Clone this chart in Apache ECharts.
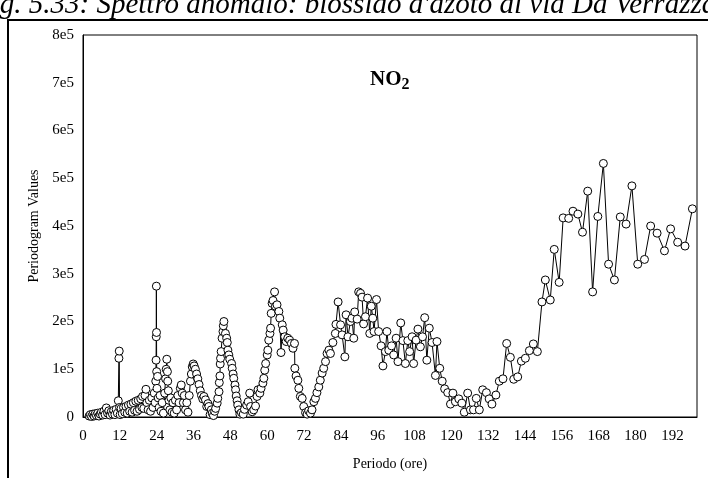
<!DOCTYPE html>
<html>
<head>
<meta charset="utf-8">
<script src="https://cdn.jsdelivr.net/npm/echarts@6/dist/echarts.min.js"></script>
<style>
    html, body { margin: 0; padding: 0; background: #fff; }
    #chart { width: 708px; height: 478px; }
</style>
</head>
<body>
<div id="chart"></div>
<script>
// periodo (ore) e valori del periodogramma (in unita' di 1e5)
var periods = [
    2.0, 2.4, 2.8, 3.2, 3.6, 4.0, 4.4, 4.8, 5.2, 5.6, 6.0, 6.4, 6.8, 7.2, 7.6, 8.0, 8.4, 8.8, 9.2, 9.6,
    10.0, 10.4, 10.8, 11.2, 11.5, 11.7, 11.8, 11.9, 12.1, 12.4, 12.8, 13.2, 13.6, 14.0, 14.4, 14.8, 15.2, 15.6,
    16.0, 16.4, 16.8, 17.2, 17.6, 18.0, 18.4, 18.8, 19.2, 19.4, 19.8, 20.2, 20.5, 20.8, 21.2, 21.6, 22.0, 22.4,
    22.8, 23.2, 23.5, 23.7, 23.8, 23.85, 23.9, 23.95, 24.0, 24.1, 24.3, 24.5, 24.8, 25.1, 25.4, 25.8, 26.2,
    26.6, 26.9, 27.1, 27.3, 27.5, 27.6, 27.8, 28.0, 28.3, 28.6, 29.0, 29.3, 29.7, 30.1, 30.5, 30.9, 31.3,
    31.7, 32.0, 32.3, 32.7, 33.0, 33.4, 33.8, 34.2, 34.6, 35.0, 35.3, 35.6, 35.9, 36.2, 36.6, 37.0, 37.4,
    37.8, 38.2, 38.6, 39.0, 39.4, 39.9, 40.3, 40.7, 41.0, 41.4, 41.8, 42.1, 42.5, 42.9, 43.2, 43.7, 43.9,
    44.3, 44.4, 44.6, 44.7, 44.8, 45.0, 45.3, 45.6, 45.7, 45.9, 46.4, 46.8, 47.0, 47.2, 47.5, 47.8, 48.4,
    48.6, 48.9, 49.1, 49.5, 49.7, 49.9, 50.2, 50.4, 50.8, 51.1, 51.6, 52.2, 52.6, 53.3, 53.8, 54.3, 54.6,
    55.1, 55.6, 56.2, 56.7, 57.0, 57.6, 58.0, 58.6, 58.9, 59.2, 59.5, 60.0, 60.2, 60.5, 60.9, 61.1, 61.3,
    61.6, 61.9, 62.4, 62.7, 63.2, 63.8, 64.1, 64.5, 64.9, 65.2, 65.7, 66.2, 66.7, 67.3, 67.9, 68.4, 68.9,
    69.0, 69.4, 70.0, 70.3, 70.8, 71.4, 71.9, 72.5, 73.0, 73.5, 74.1, 74.6, 75.2, 75.7, 76.2, 76.8, 77.3,
    77.9, 78.4, 79.0, 79.5, 80.1, 80.6, 81.4, 82.2, 82.4, 83.1, 83.9, 84.4, 85.3, 85.7, 86.3, 87.1, 87.6,
    88.2, 88.5, 89.3, 89.8, 90.4, 90.9, 91.4, 92.0, 92.7, 93.4, 93.9, 94.4, 94.8, 95.6, 96.3, 97.1, 97.7,
    98.5, 99.0, 99.6, 100.5, 101.2, 102.0, 102.6, 103.5, 104.2, 105.0, 105.8, 106.4, 107.2, 107.7, 108.5,
    109.1, 109.9, 110.6, 111.3, 112.0, 112.8, 113.7, 114.8, 115.3, 116.2, 117.0, 117.8, 118.8, 119.7,
    120.5, 121.3, 122.4, 123.4, 124.2, 125.3, 126.2, 127.2, 128.1, 129.1, 130.2, 131.4, 132.3, 133.2,
    134.5, 135.6, 136.8, 138.0, 139.2, 140.3, 141.6, 142.8, 144.1, 145.4, 146.7, 148.0, 149.5, 150.6,
    152.2, 153.5, 155.1, 156.4, 158.2, 159.6, 161.2, 162.7, 164.4, 166.0, 167.7, 169.5, 171.2, 173.1,
    175.0, 176.9, 178.8, 180.7, 182.9, 184.9, 187.0, 189.4, 191.4, 193.7, 196.1, 198.5
];
var values = [
    0.02, 0.05, 0.01, 0.06, 0.02, 0.07, 0.03, 0.08, 0.02, 0.06, 0.10, 0.04, 0.12, 0.05, 0.19, 0.08, 0.13, 0.04, 0.11, 0.06,
    0.14, 0.05, 0.16, 0.08, 0.34, 1.23, 1.38, 0.20, 0.05, 0.18, 0.07, 0.20, 0.10, 0.22, 0.08, 0.25, 0.12, 0.27,
    0.10, 0.30, 0.14, 0.33, 0.12, 0.35, 0.16, 0.38, 0.20, 0.43, 0.18, 0.45, 0.58, 0.30, 0.15, 0.35, 0.12, 0.40,
    0.20, 0.50, 0.30, 0.75, 1.19, 1.68, 2.74, 1.77, 0.95, 0.60, 0.85, 0.40, 0.20, 0.45, 0.12, 0.30, 0.08,
    0.50, 0.80, 1.00, 1.21, 0.95, 0.75, 0.55, 0.35, 0.15, 0.40, 0.10, 0.30, 0.08, 0.35, 0.15, 0.45, 0.30,
    0.60, 0.67, 0.50, 0.30, 0.45, 0.15, 0.30, 0.10, 0.45, 0.75, 0.90, 1.05, 1.11, 1.07, 1.00, 0.90, 0.80,
    0.68, 0.55, 0.45, 0.38, 0.43, 0.36, 0.22, 0.28, 0.22, 0.05, 0.15, 0.08, 0.03, 0.12, 0.18, 0.29, 0.39,
    0.53, 0.72, 0.86, 1.11, 1.23, 1.37, 1.65, 1.79, 1.91, 2.00, 1.75, 1.65, 1.56, 1.40, 1.30, 1.21, 1.12,
    1.02, 0.90, 0.81, 0.67, 0.57, 0.44, 0.34, 0.25, 0.15, 0.06, 0.09, 0.06, 0.16, 0.25, 0.32, 0.50, 0.22,
    0.11, 0.15, 0.23, 0.43, 0.57, 0.50, 0.60, 0.71, 0.81, 0.98, 1.12, 1.30, 1.40, 1.61, 1.75, 1.86, 2.17,
    2.38, 2.44, 2.62, 2.32, 2.35, 2.21, 2.07, 1.35, 1.93, 1.82, 1.68, 1.58, 1.65, 1.61, 1.54, 1.44, 1.54,
    1.02, 0.86, 0.77, 0.60, 0.43, 0.39, 0.22, 0.09, 0.06, 0.13, 0.08, 0.15, 0.32, 0.39, 0.51, 0.63, 0.77,
    0.92, 1.02, 1.16, 1.33, 1.40, 1.33, 1.56, 1.75, 1.94, 2.41, 1.93, 1.72, 1.26, 2.14, 1.68, 2.00, 2.07,
    1.65, 2.20, 2.05, 2.62, 2.59, 2.51, 1.95, 2.10, 2.49, 1.75, 2.32, 2.07, 1.79, 2.46, 1.79, 1.49, 1.07,
    1.37, 1.79, 1.40, 1.49, 1.30, 1.65, 1.16, 1.97, 1.60, 1.12, 1.60, 1.37, 1.68, 1.12, 1.61,
    1.84, 1.47, 1.68, 2.08, 1.19, 1.86, 1.56, 0.87, 1.58, 1.02, 0.75, 0.59, 0.51, 0.27,
    0.50, 0.32, 0.38, 0.29, 0.10, 0.50, 0.15, 0.15, 0.39, 0.15, 0.57, 0.51, 0.38, 0.27,
    0.46, 0.75, 0.80, 1.54, 1.25, 0.79, 0.84, 1.17, 1.23, 1.39, 1.53, 1.37, 2.41, 2.87,
    2.45, 3.51, 2.82, 4.17, 4.16, 4.31, 4.25, 3.87, 4.73, 2.62, 4.20, 5.31, 3.20, 2.87,
    4.19, 4.04, 4.84, 3.20, 3.30, 4.00, 3.85, 3.48, 3.94, 3.66, 3.58, 4.36
];

var caption = "Fig. 5.33: Spettro anomalo: biossido d'azoto di via Da Verrazzano";

var chart = echarts.init(document.getElementById('chart'));

var data = [];
for (var i = 0; i < periods.length; i++) {
    data.push([periods[i], values[i] * 1e5]);
}

var font = '"Liberation Serif", "Times New Roman", serif';

chart.setOption({
    backgroundColor: '#fff',
    animation: false,
    textStyle: { fontFamily: font, color: '#000' },
    title: {
        text: '{a|NO}{b|2}',
        left: 365,
        top: 62,
        textStyle: {
            rich: {
                a: { fontFamily: font, fontSize: 21, fontWeight: 'bold', color: '#000' },
                b: { fontFamily: font, fontSize: 16, fontWeight: 'bold', color: '#000', padding: [10, 0, 0, 0] }
            }
        }
    },
    graphic: [
        {
            type: 'rect',
            shape: { x: 8, y: 20, width: 900, height: 600 },
            style: { fill: 'none', stroke: '#000', lineWidth: 2 },
            silent: true
        },
        {
            type: 'text',
            left: -26,
            top: -9,
            style: { text: caption, font: 'italic 29px ' + font, fill: '#000' },
            silent: true
        }
    ],
    grid: {
        left: 83,
        top: 35,
        right: 11,
        bottom: 61,
        show: true,
        borderColor: '#000',
        borderWidth: 1
    },
    xAxis: {
        type: 'value',
        min: 0,
        max: 200,
        interval: 12,
        name: 'Periodo (ore)',
        nameLocation: 'middle',
        nameGap: 40,
        nameTextStyle: { fontFamily: font, fontSize: 14, color: '#000' },
        axisLine: { lineStyle: { color: '#000' } },
        axisTick: { show: false },
        splitLine: { show: false },
        axisLabel: { fontFamily: font, fontSize: 15, color: '#000', margin: 12, showMaxLabel: false }
    },
    yAxis: {
        type: 'value',
        min: 0,
        max: 800000,
        interval: 100000,
        name: 'Periodogram Values',
        nameLocation: 'middle',
        nameGap: 35,
        nameTextStyle: { fontFamily: font, fontSize: 14, color: '#000' },
        axisLine: { show: true, lineStyle: { color: '#000' } },
        axisTick: { show: false },
        splitLine: { show: false },
        axisLabel: {
            fontFamily: font, fontSize: 15, color: '#000', margin: 9,
            formatter: function (v) { return v === 0 ? '0' : (v / 1e5) + 'e5'; }
        }
    },
    series: [
        {
            type: 'line',
            data: data,
            symbol: 'circle',
            symbolSize: 8,
            showAllSymbol: true,
            lineStyle: { color: '#000', width: 1 },
            itemStyle: { color: '#fff', borderColor: '#000', borderWidth: 1 }
        }
    ]
});
</script>
</body>
</html>
